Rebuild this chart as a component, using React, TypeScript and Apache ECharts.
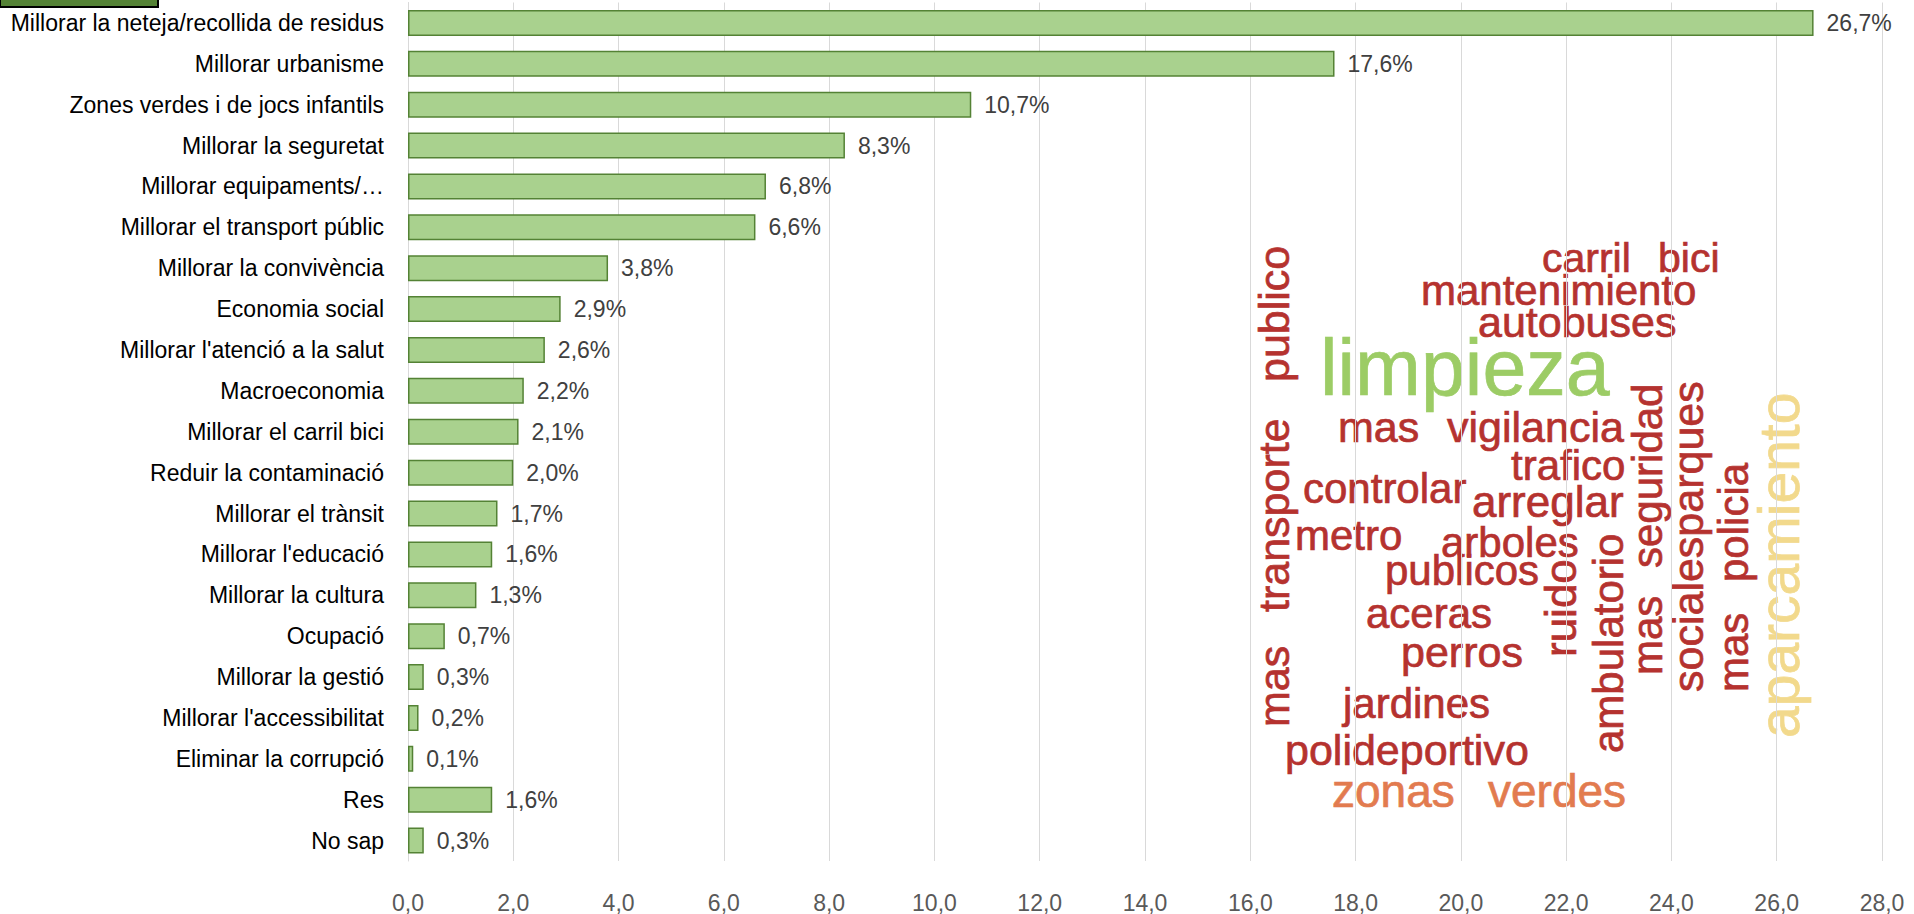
import React, { useEffect, useRef } from "react";
import * as echarts from "echarts";

const categories = [
  "Millorar la neteja/recollida de residus",
  "Millorar urbanisme",
  "Zones verdes i de jocs infantils",
  "Millorar la seguretat",
  "Millorar equipaments/…",
  "Millorar el transport públic",
  "Millorar la convivència",
  "Economia social",
  "Millorar l'atenció a la salut",
  "Macroeconomia",
  "Millorar el carril bici",
  "Reduir la contaminació",
  "Millorar el trànsit",
  "Millorar l'educació",
  "Millorar la cultura",
  "Ocupació",
  "Millorar la gestió",
  "Millorar l'accessibilitat",
  "Eliminar la corrupció",
  "Res",
  "No sap",
];

const values = [26.7, 17.6, 10.7, 8.3, 6.8, 6.6, 3.8, 2.9, 2.6, 2.2, 2.1, 2.0, 1.7, 1.6, 1.3, 0.7, 0.3, 0.2, 0.1, 1.6, 0.3];

const axisMin = 0;
const axisMax = 28;
const axisStep = 2;

// word cloud (decorative picture) words
const cloudWords = [
  "carril", "bici", "mantenimiento", "autobuses", "limpieza", "mas", "vigilancia",
  "trafico", "controlar", "arreglar", "metro", "arboles", "publicos", "aceras",
  "perros", "jardines", "polideportivo", "zonas", "verdes",
  "mas", "transporte", "publico", "ruido", "ambulatorio", "mas", "seguridad",
  "socialesparques", "mas", "policia", "aparcamiento",
];

// layout of the word cloud: horizontal -> (left x, baseline y); vertical -> (baseline x, bottom y)
const cloudPlacement = [
  { a: 1542, b: 272, s: 41, v: false, t: "r" },
  { a: 1658, b: 272, s: 41, v: false, t: "r" },
  { a: 1421, b: 305, s: 42, v: false, t: "r" },
  { a: 1478, b: 337, s: 43, v: false, t: "r" },
  { a: 1320, b: 395, s: 79, v: false, t: "g" },
  { a: 1338, b: 442, s: 43, v: false, t: "r" },
  { a: 1447, b: 442, s: 43, v: false, t: "r" },
  { a: 1511, b: 480, s: 42, v: false, t: "r" },
  { a: 1303, b: 503, s: 42, v: false, t: "r" },
  { a: 1472, b: 517, s: 44, v: false, t: "r" },
  { a: 1295, b: 550, s: 42, v: false, t: "r" },
  { a: 1441, b: 557, s: 42, v: false, t: "r" },
  { a: 1385, b: 585, s: 42, v: false, t: "r" },
  { a: 1366, b: 628, s: 42, v: false, t: "r" },
  { a: 1401, b: 667, s: 43, v: false, t: "r" },
  { a: 1343, b: 718, s: 42, v: false, t: "r" },
  { a: 1285, b: 765, s: 43, v: false, t: "r" },
  { a: 1332, b: 807, s: 46, v: false, t: "o" },
  { a: 1488, b: 807, s: 46, v: false, t: "o" },
  { a: 1289, b: 727, s: 43, v: true, t: "r" },
  { a: 1289, b: 612, s: 43, v: true, t: "r" },
  { a: 1289, b: 382, s: 43, v: true, t: "r" },
  { a: 1576, b: 657, s: 44, v: true, t: "r" },
  { a: 1623, b: 753, s: 42, v: true, t: "r" },
  { a: 1662, b: 675, s: 42, v: true, t: "r" },
  { a: 1662, b: 568, s: 42, v: true, t: "r" },
  { a: 1703, b: 692, s: 43, v: true, t: "r" },
  { a: 1748, b: 692, s: 42, v: true, t: "r" },
  { a: 1748, b: 582, s: 42, v: true, t: "r" },
  { a: 1799, b: 738, s: 57, v: true, t: "y" },
];

const tones: Record<string, string> = {
  r: "#b5322f",
  g: "#9ccc65",
  o: "#e27b4f",
  y: "#f2d98c",
};

const fmt = (v: number) => v.toFixed(1).replace(".", ",");

export default function App() {
  const ref = useRef<HTMLDivElement>(null);

  useEffect(() => {
    document.body.style.margin = "0";
    if (!ref.current) return;
    const chart = echarts.init(ref.current, undefined, { renderer: "svg" });

    const cloud = cloudWords.map((w, i) => {
      const p = cloudPlacement[i];
      const off = 0.3465 * p.s;
      return {
        type: "text",
        x: p.v ? p.a - off : p.a,
        y: p.v ? p.b : p.b - off,
        rotation: p.v ? Math.PI / 2 : 0,
        silent: true,
        style: {
          text: w,
          fontSize: p.s,
          fontFamily: "Liberation Sans, Arial, sans-serif",
          fill: tones[p.t],
          stroke: tones[p.t],
          lineWidth: 0.7,
          align: "left",
          verticalAlign: "middle",
        },
      };
    });

    chart.setOption({
      animation: false,
      backgroundColor: "#ffffff",
      grid: { left: 408, top: 2.5, right: 32, height: 861, containLabel: false },
      xAxis: {
        type: "value",
        min: axisMin,
        max: axisMax,
        interval: axisStep,
        axisLine: { show: false },
        axisTick: { show: false },
        splitLine: { show: true, lineStyle: { color: "#d9d9d9", width: 1 } },
        axisLabel: {
          formatter: (v: number) => fmt(v),
          color: "#595959",
          fontSize: 23,
          fontFamily: "Liberation Sans, Arial, sans-serif",
          margin: 30,
        },
      },
      yAxis: {
        type: "category",
        inverse: true,
        data: categories,
        axisLine: { show: true, lineStyle: { color: "#d9d9d9", width: 1 } },
        axisTick: { show: false },
        axisLabel: {
          color: "#000000",
          fontSize: 23,
          fontFamily: "Liberation Sans, Arial, sans-serif",
          margin: 24,
        },
      },
      series: [
        {
          type: "bar",
          data: values,
          barWidth: 26,
          itemStyle: { color: "#a9d18e", borderColor: "#548235", borderWidth: 1.5 },
          label: {
            show: true,
            position: "right",
            distance: 13,
            formatter: (p: any) => fmt(p.value) + "%",
            color: "#404040",
            fontSize: 23,
            fontFamily: "Liberation Sans, Arial, sans-serif",
          },
        },
      ],
      graphic: [
        {
          type: "rect",
          silent: true,
          shape: { x: 0, y: -12, width: 158, height: 19 },
          style: { fill: "#548235", stroke: "#000000", lineWidth: 2 },
        },
        ...cloud,
      ],
    });

    return () => chart.dispose();
  }, []);

  return (
    <div
      ref={ref}
      style={{ position: "absolute", left: 0, top: 0, width: 1914, height: 914 }}
    />
  );
}
